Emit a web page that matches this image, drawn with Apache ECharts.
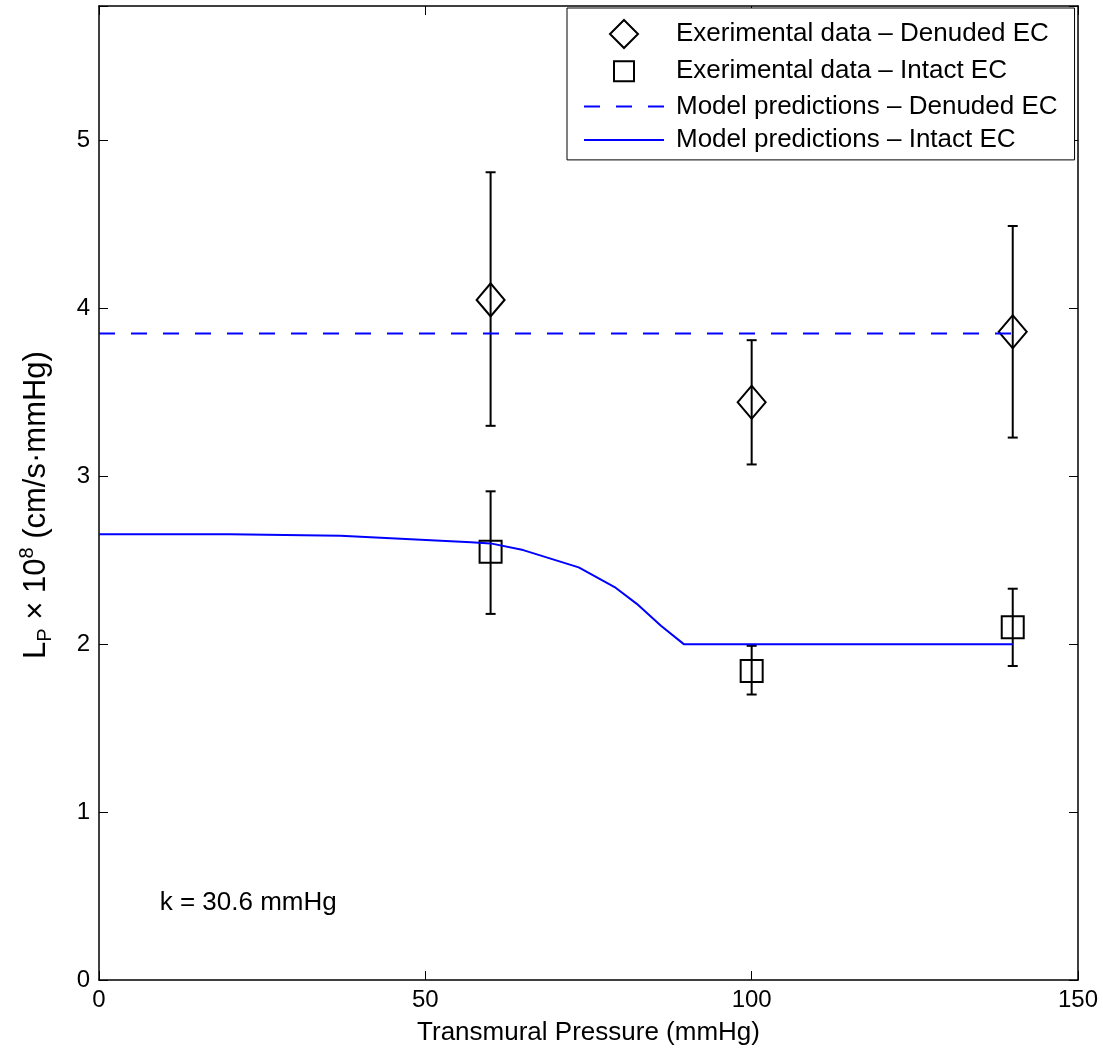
<!DOCTYPE html>
<html>
<head>
<meta charset="utf-8">
<script src="https://cdn.jsdelivr.net/npm/echarts@6/dist/echarts.min.js"></script>
<style>
html,body{margin:0;padding:0;background:#fff;}
#chart{width:1103px;height:1059px;}
</style>
</head>
<body>
<div id="chart"></div>
<script>
// ---- data ----
var pressures = [60, 100, 140];
var denudedMean = [4.05, 3.44, 3.86];
var denudedLow = [3.30, 3.07, 3.23];
var denudedHigh = [4.81, 3.81, 4.49];
var intactMean = [2.55, 1.84, 2.10];
var intactLow = [2.18, 1.70, 1.87];
var intactHigh = [2.91, 1.99, 2.33];
var modelDenudedX = [0, 140];
var modelDenudedY = [3.85, 3.85];
var modelIntactX = [0, 20, 37, 57, 60, 65, 73.5, 79, 82.4, 86.1, 89.6, 140];
var modelIntactY = [2.655, 2.655, 2.645, 2.607, 2.60, 2.56, 2.457, 2.34, 2.24, 2.11, 2.0, 2.0];
var xTicks = [0, 50, 100, 150];
var yTicks = [0, 1, 2, 3, 4, 5];
var annotation = {x: 9.3, y: 0.46, text: 'k = 30.6 mmHg'};

var names = [
  'Exerimental data \u2013 Denuded EC',
  'Exerimental data \u2013 Intact EC',
  'Model predictions \u2013 Denuded EC',
  'Model predictions \u2013 Intact EC'
];

function zip(a, b) { return a.map(function (v, i) { return [v, b[i]]; }); }
function errData(lo, hi) { return pressures.map(function (x, i) { return [x, lo[i], hi[i]]; }); }

function errorRender(params, api) {
  var x = api.value(0), lo = api.value(1), hi = api.value(2);
  var pHi = api.coord([x, hi]), pLo = api.coord([x, lo]);
  var w = 5;
  var st = {stroke: '#000', lineWidth: 2};
  return {
    type: 'group',
    children: [
      {type: 'line', shape: {x1: pHi[0], y1: pHi[1], x2: pLo[0], y2: pLo[1]}, style: st},
      {type: 'line', shape: {x1: pHi[0] - w, y1: pHi[1], x2: pHi[0] + w, y2: pHi[1]}, style: st},
      {type: 'line', shape: {x1: pLo[0] - w, y1: pLo[1], x2: pLo[0] + w, y2: pLo[1]}, style: st}
    ]
  };
}

var FONT = '"Liberation Sans", Arial, Helvetica, sans-serif';
var chart = echarts.init(document.getElementById('chart'), null, {renderer: 'canvas'});

var axisCommon = {
  axisLine: {show: true, onZero: false, lineStyle: {color: '#000', width: 1.5}},
  axisTick: {show: true, inside: true, length: 9, lineStyle: {color: '#000', width: 1}},
  splitLine: {show: false}
};

var markerStyle = {color: 'rgba(255,255,255,0)', borderColor: '#000', borderWidth: 2, opacity: 1};

var option = {
  backgroundColor: '#fff',
  animation: false,
  grid: {left: 99, right: 25, top: 6, bottom: 79, containLabel: false},
  legend: {
    show: true,
    data: [
      {name: names[0], icon: 'path://M14,0 L28,14 L14,28 L0,14 Z', itemStyle: markerStyle},
      {name: names[1], icon: 'path://M0,0 M28,28 M4,4 L24,4 L24,24 L4,24 Z', itemStyle: markerStyle},
      {name: names[2], itemStyle: {opacity: 0}},
      {name: names[3], itemStyle: {opacity: 0}}
    ],
    orient: 'vertical',
    left: 567,
    top: 8,
    padding: [11, 17, 7, 16],
    itemWidth: 80,
    itemHeight: 28,
    itemGap: 7.3,
    backgroundColor: '#fff',
    borderColor: '#000',
    borderWidth: 1,
    borderRadius: 0,
    selectedMode: false,
    textStyle: {fontFamily: FONT, fontSize: 26, color: '#000', padding: [0, 0, 0, 7]}
  },
  xAxis: [
    Object.assign({}, axisCommon, {
      type: 'value', min: 0, max: 150, interval: 50, position: 'bottom',
      name: 'Transmural Pressure (mmHg)', nameLocation: 'middle', nameGap: 40,
      nameTextStyle: {fontFamily: FONT, fontSize: 26, color: '#000'},
      axisLabel: {show: true, margin: 8, fontFamily: FONT, fontSize: 24, color: '#000',
        formatter: function (v) { return xTicks.indexOf(v) >= 0 ? String(v) : ''; }}
    }),
    Object.assign({}, axisCommon, {
      type: 'value', min: 0, max: 150, interval: 50, position: 'top',
      axisLabel: {show: false}
    })
  ],
  yAxis: [
    Object.assign({}, axisCommon, {
      type: 'value', min: 0, max: 5.8, interval: 1, position: 'left',
      name: '{a|L}{sub|P}{a| \u00d7 10}{sup|8}{e| (cm/s\u00b7mmHg)}',
      nameLocation: 'middle', nameGap: 44, nameRotate: 90,
      nameTextStyle: {
        fontFamily: FONT, fontSize: 31, color: '#000',
        rich: {
          a: {fontFamily: FONT, fontSize: 31, color: '#000', lineHeight: 38},
          e: {fontFamily: FONT, fontSize: 31, color: '#000', lineHeight: 38, padding: [0, 24, 0, 0]},
          sub: {fontFamily: FONT, fontSize: 20, color: '#000', verticalAlign: 'bottom', lineHeight: 20},
          sup: {fontFamily: FONT, fontSize: 20, color: '#000', verticalAlign: 'top', lineHeight: 20}
        }
      },
      axisLabel: {show: true, margin: 9, fontFamily: FONT, fontSize: 24, color: '#000',
        formatter: function (v) { return yTicks.indexOf(v) >= 0 ? String(v) : ''; }}
    }),
    Object.assign({}, axisCommon, {
      type: 'value', min: 0, max: 5.8, interval: 1, position: 'right',
      axisLabel: {show: false}
    })
  ],
  series: [
    {
      name: 'errDenuded', type: 'custom', renderItem: errorRender,
      data: errData(denudedLow, denudedHigh), encode: {x: 0, y: [1, 2]}, z: 2, silent: true
    },
    {
      name: 'errIntact', type: 'custom', renderItem: errorRender,
      data: errData(intactLow, intactHigh), encode: {x: 0, y: [1, 2]}, z: 2, silent: true
    },
    {
      name: names[0], type: 'scatter', data: zip(pressures, denudedMean),
      symbol: 'diamond', symbolSize: [28, 33],
      itemStyle: markerStyle,
      z: 3
    },
    {
      name: names[1], type: 'scatter', data: zip(pressures, intactMean),
      symbol: 'rect', symbolSize: 22,
      itemStyle: markerStyle,
      z: 3
    },
    {
      name: names[2], type: 'line', data: zip(modelDenudedX, modelDenudedY),
      symbol: 'none', showSymbol: false,
      lineStyle: {color: '#0000ff', width: 2, type: [16, 16]},
      itemStyle: {color: '#0000ff'},
      z: 4
    },
    {
      name: names[3], type: 'line', data: zip(modelIntactX, modelIntactY),
      symbol: 'none', showSymbol: false,
      lineStyle: {color: '#0000ff', width: 2, type: 'solid'},
      itemStyle: {color: '#0000ff'},
      z: 4
    },
    {
      name: 'annotation', type: 'scatter', data: [[annotation.x, annotation.y]],
      symbolSize: 0, silent: true, itemStyle: {opacity: 1},
      label: {show: true, position: 'inside', align: 'left', verticalAlign: 'middle',
        formatter: annotation.text, fontFamily: FONT, fontSize: 26, color: '#000', opacity: 1}
    }
  ]
};
chart.setOption(option);
</script>
</body>
</html>
